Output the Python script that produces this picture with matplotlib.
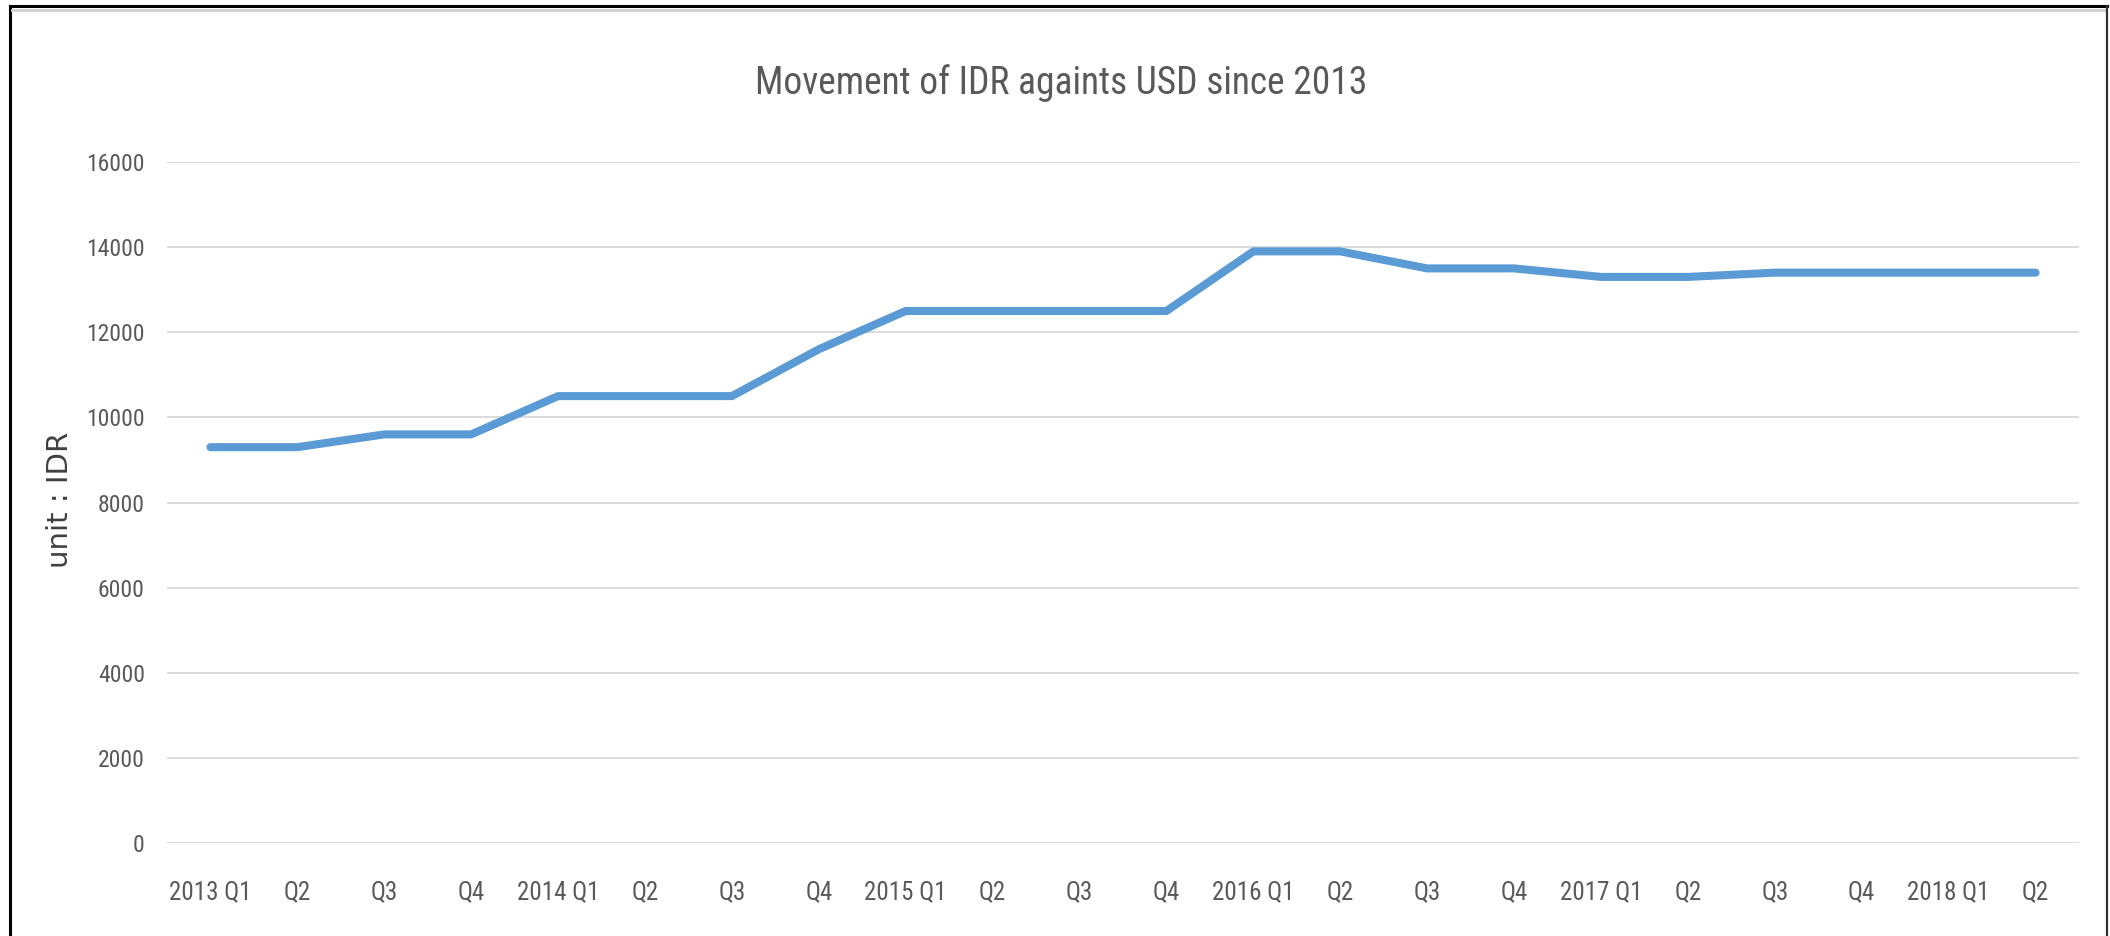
import matplotlib
matplotlib.use("Agg")
import matplotlib.pyplot as plt
from matplotlib.lines import Line2D

# ── Daten ─────────────────────────────────────────────────────────────────────
quarters = ["2013 Q1", "Q2", "Q3", "Q4",
            "2014 Q1", "Q2", "Q3", "Q4",
            "2015 Q1", "Q2", "Q3", "Q4",
            "2016 Q1", "Q2", "Q3", "Q4",
            "2017 Q1", "Q2", "Q3", "Q4",
            "2018 Q1", "Q2"]
idr_per_usd = [9300, 9300, 9600, 9600,
               10500, 10500, 10500, 11600,
               12500, 12500, 12500, 12500,
               13900, 13900, 13500, 13500,
               13300, 13300, 13400, 13400,
               13400, 13400]
y_ticks = [0, 2000, 4000, 6000, 8000, 10000, 12000, 14000, 16000]

TEXT_GRAY = "#595959"
NARROW = ["Roboto Condensed", "Liberation Sans Narrow", "DejaVu Sans"]

# ── Plot ──────────────────────────────────────────────────────────────────────
W, H = 2110, 936
fig = plt.figure(figsize=(W / 100, H / 100), dpi=100)
fig.patch.set_facecolor("white")

# Plotbereich in Pixeln (aus der Vorlage gemessen)
L, R, T, B = 167, 2079, 162, 843
ax = fig.add_axes([L / W, 1 - B / H, (R - L) / W, (B - T) / H])

x = list(range(len(quarters)))
ax.plot(x, idr_per_usd, color="#5B9BD5", linewidth=5.8,
        solid_joinstyle="round", solid_capstyle="round", zorder=3)

ax.set_xlim(-0.5, len(quarters) - 0.5)
ax.set_ylim(0, 16000)
ax.set_yticks(y_ticks)
ax.set_yticklabels([str(v) for v in y_ticks])
ax.set_xticks(x)
ax.set_xticklabels(quarters)

for s in ax.spines.values():
    s.set_visible(False)
ax.grid(axis="y", color="#D9D9D9", linewidth=1.3, zorder=0)
ax.tick_params(axis="both", length=0, colors=TEXT_GRAY)
ax.tick_params(axis="y", pad=16)
ax.tick_params(axis="x", pad=27)
for lab in ax.get_yticklabels():
    lab.set_family(NARROW)
    lab.set_fontsize(17)
for lab in ax.get_xticklabels():
    lab.set_family(NARROW)
    lab.set_fontsize(18)

ax.set_ylabel("unit : IDR", fontsize=21, color="#404040",
              family=["DejaVu Sans"], labelpad=0)
ax.yaxis.set_label_coords((74 - L) / (R - L), (B - 500) / (B - T))

fig.text(1061 / W, 1 - 83 / H, "Movement of IDR againts USD since 2013",
         ha="center", va="center", fontsize=27, color=TEXT_GRAY, family=NARROW)

# Rahmen um das Bild
fig.add_artist(Line2D([10 / W, 10 / W], [0, 1 - 6 / H], color="black",
                      linewidth=2.2, transform=fig.transFigure))
fig.add_artist(Line2D([10 / W, 2107 / W], [1 - 6 / H, 1 - 6 / H], color="black",
                      linewidth=2.2, transform=fig.transFigure))
fig.add_artist(Line2D([12 / W, 2105 / W], [1 - 10 / H, 1 - 10 / H], color="#D0D0D0",
                      linewidth=2, transform=fig.transFigure))
fig.add_artist(Line2D([2107 / W, 2107 / W], [0, 1 - 6 / H], color="#333333",
                      linewidth=1.6, transform=fig.transFigure))

fig.savefig("out.png", dpi=100)
